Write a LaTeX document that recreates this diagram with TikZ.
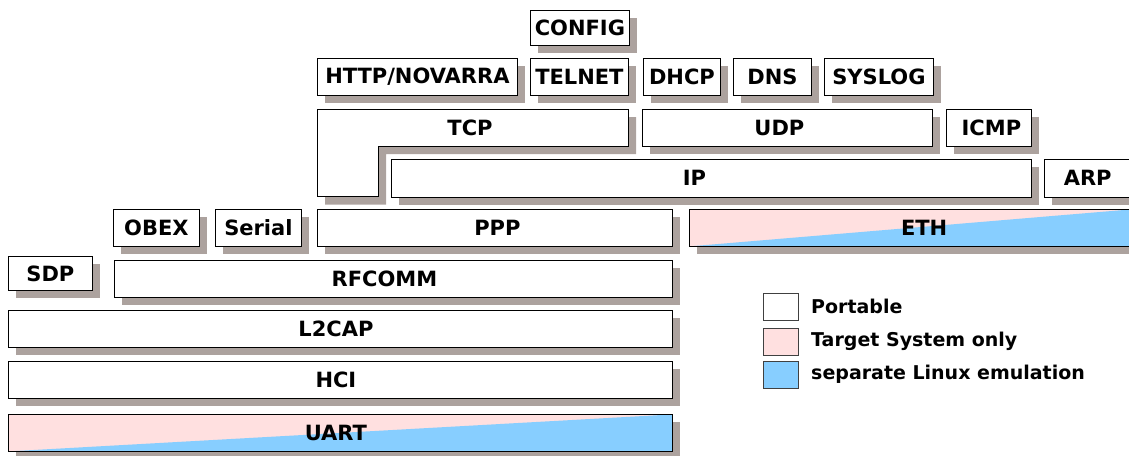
\documentclass[tikz,border=0pt]{standalone}
\usepackage{fontspec}
\setmainfont{DejaVu Sans}
\usetikzlibrary{shadows}
\definecolor{shadowc}{RGB}{172,162,158}
\definecolor{pinkc}{RGB}{255,224,224}
\definecolor{bluec}{RGB}{135,206,255}
\newcommand{\lblfont}{\fontsize{21}{25}\selectfont\bfseries}
\newcommand{\legfont}{\fontsize{19}{23}\selectfont\bfseries}
\tikzset{
  sh/.style={drop shadow={shadow xshift=8pt, shadow yshift=-8pt, fill=shadowc, opacity=1}},
  layer/.style={draw=black, line width=0.8pt, fill=white, inner sep=0pt, anchor=north west, font=\lblfont, sh},
  mixed/.style={layer, path picture={
      \fill[pinkc] (path picture bounding box.north west) rectangle (path picture bounding box.south east);
      \fill[bluec] (path picture bounding box.south west) -- (path picture bounding box.north east) -- (path picture bounding box.south east) -- cycle;}},
  legbox/.style={draw=black!75, line width=0.8pt, inner sep=0pt, anchor=north west, minimum width=35pt, minimum height=27pt},
  legtext/.style={anchor=west, font=\legfont, inner sep=0pt}
}
\begin{document}
\begin{tikzpicture}[x=1pt,y=-1pt]
\useasboundingbox (0,0) rectangle (1129,455);
\clip (0,0) rectangle (1129,455);
\node[layer, minimum width=99pt, minimum height=35pt] (config) at (530,10) {CONFIG};
\node[layer, minimum width=200pt, minimum height=37pt] (http) at (317,58) {HTTP/NOVARRA};
\node[layer, minimum width=98pt, minimum height=37pt] (telnet) at (530,58) {TELNET};
\node[layer, minimum width=77pt, minimum height=37pt] (dhcp) at (643,58) {DHCP};
\node[layer, minimum width=78pt, minimum height=37pt] (dns) at (733,58) {DNS};
\node[layer, minimum width=109pt, minimum height=37pt] (syslog) at (824,58) {SYSLOG};
\draw[draw=black, line width=0.8pt, fill=white, sh] (317,109) -- (628,109) -- (628,146) -- (378,146) -- (378,196.5) -- (317,196.5) -- cycle;
\node[font=\lblfont, inner sep=0pt] (tcp) at (470,128) {TCP};
\node[layer, minimum width=290pt, minimum height=37pt, text depth=0pt] (udp) at (642,109) {\hspace*{-16pt}UDP};
\node[layer, minimum width=85pt, minimum height=37pt] (icmp) at (946,109) {\hspace*{5pt}ICMP};
\node[layer, minimum width=640pt, minimum height=37.5pt] (ip) at (391,159) {\hspace*{-34pt}IP};
\node[layer, minimum width=86.5pt, minimum height=37.5pt] (arp) at (1044,159) {ARP};
\node[layer, minimum width=86pt, minimum height=37pt] (obex) at (113,209) {OBEX};
\node[layer, minimum width=86pt, minimum height=37pt] (serial) at (215,209) {Serial};
\node[layer, minimum width=355pt, minimum height=37pt] (ppp) at (317,209) {\hspace*{5pt}PPP};
\node[mixed, minimum width=441.5pt, minimum height=37pt] (eth) at (689,209) {\hspace*{28pt}ETH};
\node[layer, minimum width=84pt, minimum height=34pt] (sdp) at (8,256) {SDP};
\node[layer, minimum width=558pt, minimum height=37pt] (rfcomm) at (114,260) {\hspace*{-18pt}RFCOMM};
\node[layer, minimum width=664pt, minimum height=37pt] (l2cap) at (8,310) {\hspace*{-9pt}L2CAP};
\node[layer, minimum width=664pt, minimum height=37.5pt] (hci) at (8,360.5) {\hspace*{-9pt}HCI};
\node[mixed, minimum width=664pt, minimum height=37pt] (uart) at (8,414) {\hspace*{-9pt}UART};
\node[legbox, fill=white] (lp) at (763,293) {};
\node[legbox, fill=pinkc] (lt) at (763,328) {};
\node[legbox, fill=bluec] (ll) at (763,361) {};
\node[legtext] (tp) at (811,306) {Portable};
\node[legtext] (tt) at (811,341) {Target System only};
\node[legtext] (tl) at (811,374) {separate Linux emulation};
\end{tikzpicture}
\end{document}
